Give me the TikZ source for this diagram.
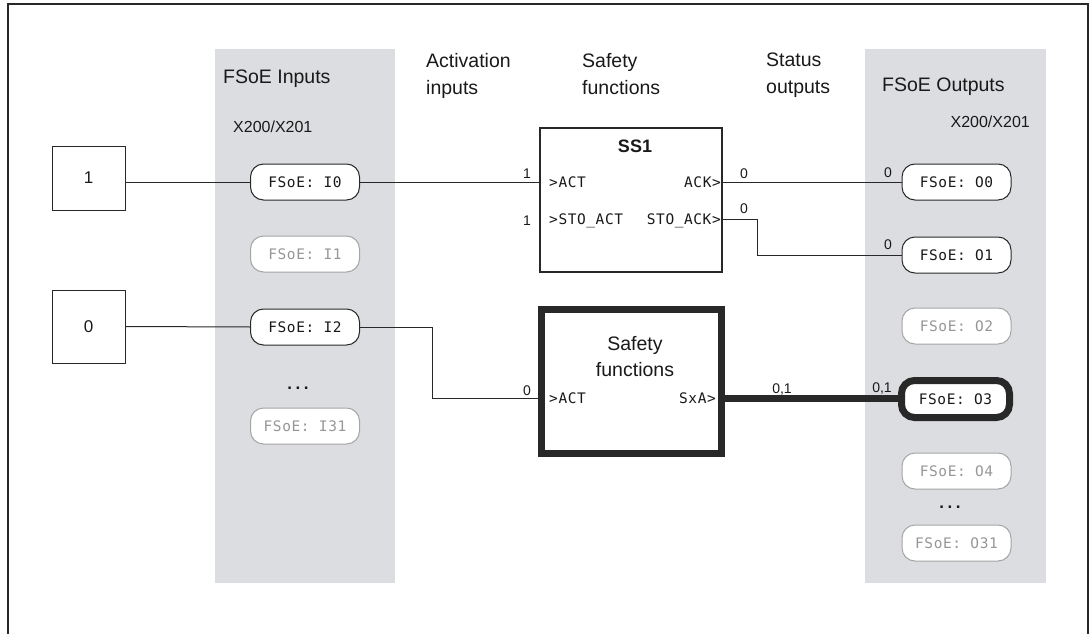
\documentclass[tikz,border=0pt]{standalone}
\usepackage{fontspec}
\setmainfont{Liberation Sans}
\newfontfamily\monof[LetterSpace=4]{DejaVu Sans Mono}
\definecolor{colfill}{RGB}{220,221,224}
\definecolor{linec}{RGB}{40,40,40}
\definecolor{txt}{RGB}{25,25,25}
\definecolor{offc}{RGB}{165,165,165}
\definecolor{offtxt}{RGB}{150,150,150}
\begin{document}
\begin{tikzpicture}[x=1pt,y=-1pt,
  pill/.style={draw=linec, line width=1pt, fill=white, rounded corners=13pt,
    minimum width=109pt, minimum height=36pt, inner sep=0pt,
    font=\monof\fontsize{14.5}{17}\selectfont, text=txt},
  pilloff/.style={pill, draw=offc, text=offtxt},
  pillthick/.style={pill, line width=7pt, minimum width=108pt, minimum height=37pt},
  hdr/.style={font=\fontsize{19.5}{27}\selectfont, align=left, anchor=north west, inner sep=0pt, text=txt},
  sub/.style={font=\fontsize{16}{18}\selectfont, anchor=base west, inner sep=0pt, text=txt},
  num/.style={font=\fontsize{14}{16}\selectfont, anchor=base, inner sep=0pt, text=txt},
  port/.style={font=\monof\fontsize{14.5}{17}\selectfont, inner sep=0pt, text=txt},
  srcbox/.style={draw=linec, line width=1pt, minimum width=73pt, inner sep=0pt,
    font=\fontsize{17}{19}\selectfont, text=txt},
  wire/.style={draw=linec, line width=1pt},
  dots/.style={font=\bfseries\fontsize{17}{19}\selectfont, inner sep=0pt, text=txt}]
\useasboundingbox (0,0) rectangle (1090,634);
% frame
\draw[linec, line width=1.5pt] (8,660) -- (8,4) -- (1088,4) -- (1088,660);
% columns
\fill[colfill] (215,49) rectangle (395,583);
\fill[colfill] (865,49) rectangle (1046,583);
% headers
\node[hdr] at (223,70) {FSoE Inputs};
\node[sub] at (233,132) {X200/X201};
\node[hdr] at (882,78) {FSoE Outputs};
\node[sub, anchor=base east] at (1030,128) {X200/X201};
\node[hdr] at (426,53) {Activation\\inputs};
\node[hdr] at (582,53) {Safety\\functions};
\node[hdr] at (766,53) {Status\\outputs};
% sources
\node[srcbox, minimum height=64pt] (in1) at (88.5,178) {1};
\node[srcbox, minimum height=73pt] (in0) at (88.5,326.5) {0};
% input pills
\node[pill] (pi0) at (305,182) {FSoE: I0};
\node[pilloff] (pi1) at (305,254) {FSoE: I1};
\node[pill] (pi2) at (305,327) {FSoE: I2};
\node[dots] (di) at (298,388) {.\kern3.5pt.\kern3.5pt.};
\node[pilloff] (pi31) at (305,426) {FSoE: I31};
% output pills
\node[pill] (po0) at (956.5,182) {FSoE: O0};
\node[pill] (po1) at (956.5,255) {FSoE: O1};
\node[pilloff] (po2) at (956.5,326) {FSoE: O2};
\node[pillthick] (po3) at (955.5,399) {FSoE: O3};
\node[pilloff] (po4) at (956.5,471) {FSoE: O4};
\node[dots] (do) at (950,507) {.\kern3.5pt.\kern3.5pt.};
\node[pilloff] (po31) at (956.5,543) {FSoE: O31};
% SS1 block
\node[draw=linec, line width=1.2pt, fill=white, minimum width=182pt, minimum height=144pt, inner sep=0pt] (ss1) at (631,200) {};
\node[font=\bfseries\fontsize{18}{20}\selectfont, anchor=base, inner sep=0pt, text=txt] (ss1t) at (635,152) {SS1};
\node[port, anchor=base west] (ss1a) at (549,187) {>ACT};
\node[port, anchor=base east] (ss1b) at (721,187) {ACK>};
\node[port, anchor=base west] (ss1c) at (549,224) {>STO\_ACT};
\node[port, anchor=base east] (ss1d) at (721,224) {STO\_ACK>};
% Safety functions block
\node[draw=linec, line width=7pt, fill=white, minimum width=180pt, minimum height=144pt, inner sep=0pt] (sf) at (631,381) {};
\node[font=\fontsize{19.5}{26}\selectfont, align=center, anchor=north, inner sep=0pt, text=txt] (sft) at (635,336) {Safety\\functions};
\node[port, anchor=base west] (sfa) at (549,403) {>ACT};
\node[port, anchor=base east] (sfb) at (716,403) {SxA>};
% wires
\draw[wire] (pi0.west -| in1.east) -- (pi0.west);
\draw[wire] (in0.east) -- (pi2.west);
\draw[wire] (pi0.east) -- (pi0.east -| ss1.west);
\draw[wire] (ss1.east |- po0.west) -- (po0.west);
\draw[wire] (ss1.east |- 0,219) -- (757,219) |- (po1.west);
\draw[wire] (pi2.east) -| (432,398) -- (sf.west |- 0,398);
\draw[linec, line width=7pt] (sf.east |- 0,398) -- (po3.west |- 0,398);
% signal values
\node[num] at (527,178) {1};
\node[num] at (527,225) {1};
\node[num] at (744,178) {0};
\node[num] at (744,213) {0};
\node[num] at (888,177) {0};
\node[num] at (888,249) {0};
\node[num] at (527,395) {0};
\node[num] at (782,393) {0,1};
\node[num] at (882,392) {0,1};
\end{tikzpicture}
\end{document}
